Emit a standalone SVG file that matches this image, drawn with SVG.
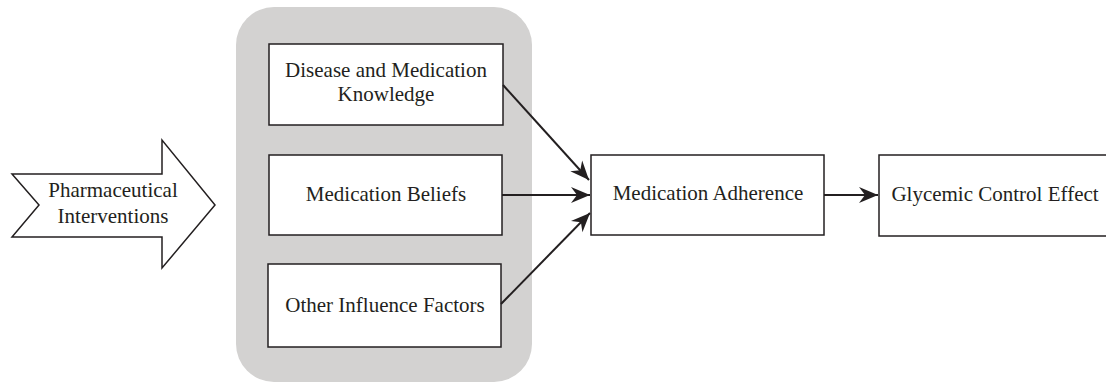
<svg xmlns="http://www.w3.org/2000/svg" width="1106" height="383" viewBox="0 0 1106 383">
<style>
.box{fill:#fff;stroke:#231f20;stroke-width:1.5}
.t{font-family:"Liberation Serif","DejaVu Serif",serif;font-size:21px;fill:#231f20;text-anchor:middle}
.c{stroke:#231f20;stroke-width:2;fill:none;marker-end:url(#ah)}
</style>
<defs>
<marker id="ah" markerUnits="userSpaceOnUse" markerWidth="24" markerHeight="20" viewBox="-20 -10 24 20" refX="0" refY="0" orient="auto">
<path d="M0,0 L-19,-8 L-13,0 L-19,8 Z" fill="#231f20"/>
</marker>
</defs>
<rect x="236" y="7" width="296" height="375" rx="38" ry="38" fill="#d3d2d1"/>
<g id="pharm">
<path class="box" d="M12,174 L162,174 L162,140 L215,205 L162,268 L162,237 L12,237 L39,205 Z"/>
<text class="t" x="113" y="197">Pharmaceutical</text>
<text class="t" x="113" y="223">Interventions</text>
</g>
<g id="knowledge">
<rect class="box" x="269" y="44" width="234" height="81"/>
<text class="t" x="386" y="77">Disease and Medication</text>
<text class="t" x="386" y="101">Knowledge</text>
</g>
<g id="beliefs">
<rect class="box" x="269" y="155" width="233" height="80"/>
<text class="t" x="386" y="201">Medication Beliefs</text>
</g>
<g id="other">
<rect class="box" x="268" y="264" width="233" height="83"/>
<text class="t" x="385" y="312">Other Influence Factors</text>
</g>
<g id="adherence">
<rect class="box" x="591" y="155" width="233" height="80"/>
<text class="t" x="708" y="200">Medication Adherence</text>
</g>
<g id="glycemic">
<rect class="box" x="879" y="155" width="240" height="81"/>
<text class="t" x="995" y="201">Glycemic Control Effect</text>
</g>
<g id="connectors">
<line class="c" x1="503" y1="85" x2="589" y2="180"/>
<line class="c" x1="502" y1="195" x2="590" y2="195"/>
<line class="c" x1="501" y1="304" x2="590" y2="213"/>
<line class="c" x1="824" y1="195" x2="878" y2="195"/>
</g>
</svg>
